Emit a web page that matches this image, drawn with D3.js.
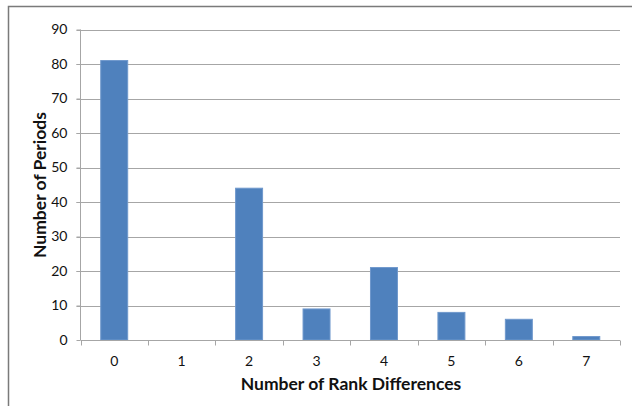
<!DOCTYPE html>
<html lang="en">
<head>
    <meta charset="utf-8">
    <title>Number of Rank Differences</title>
    <script src="https://d3js.org/d3.v7.min.js"></script>
    <style>
        body { margin: 0; background: #fff; }
        svg text { font-family: Lato, "Open Sans", sans-serif; fill: #111; }
    </style>
</head>
<body>
    <svg id="chart" width="632" height="406"></svg>
    <script>
        // data
        const categories = ["0", "1", "2", "3", "4", "5", "6", "7"];
        const periods = [81, 0, 44, 9, 21, 8, 6, 1];
        const yTicks = [0, 10, 20, 30, 40, 50, 60, 70, 80, 90];

        const svg = d3.select("#chart");
        const plot = { left: 80.5, right: 620, top: 29.5, bottom: 340 };

        // outer chart border (only top and left show in the picture)
        svg.append("rect")
            .attr("x", 8.5).attr("y", 6.5)
            .attr("width", 640).attr("height", 420)
            .attr("fill", "none")
            .attr("stroke", "#7a7a7a")
            .attr("stroke-width", 1.5);

        const x = d3.scaleBand().domain(categories).range([plot.left, plot.right]).paddingInner(0.6).paddingOuter(0.3);
        const xEdge = d3.scaleLinear().domain([0, categories.length]).range([plot.left, plot.right]);
        const y = d3.scaleLinear().domain([0, 90]).range([plot.bottom, plot.top]);

        // gridlines
        svg.append("g")
            .selectAll("line")
            .data(yTicks.filter(d => d > 0))
            .enter().append("line")
            .attr("x1", plot.left - 4).attr("x2", plot.right)
            .attr("y1", d => Math.round(y(d)) + 0.5).attr("y2", d => Math.round(y(d)) + 0.5)
            .attr("stroke", "#a6a6a6");

        // y axis
        const yAxis = svg.append("g")
            .attr("transform", `translate(${plot.left},0)`)
            .call(d3.axisLeft(y).tickValues(yTicks).tickSize(4).tickPadding(9));
        yAxis.select(".domain").attr("stroke", "#a6a6a6").attr("d", `M0,${plot.bottom}V${plot.top}`);
        yAxis.selectAll(".tick line").attr("stroke", "#a6a6a6");
        yAxis.selectAll(".tick text").style("font-size", "14px").attr("fill", "#111");

        // bars
        svg.append("g")
            .selectAll("rect")
            .data(periods)
            .enter().append("rect")
            .attr("x", (d, i) => x(categories[i]))
            .attr("width", x.bandwidth())
            .attr("y", d => y(d))
            .attr("height", d => plot.bottom - y(d))
            .attr("fill", "#4f81bd")
            .attr("stroke", d => d > 0 ? "#6f98cc" : "none")
            .attr("stroke-width", 1);

        // x axis
        const xAxis = svg.append("g").attr("transform", `translate(0,${plot.bottom + 0.5})`);
        xAxis.append("line")
            .attr("x1", plot.left).attr("x2", plot.right)
            .attr("stroke", "#a6a6a6");
        xAxis.selectAll(".edge")
            .data(d3.range(categories.length + 1))
            .enter().append("line")
            .attr("class", "edge")
            .attr("x1", d => Math.round(xEdge(d)) + 0.5).attr("x2", d => Math.round(xEdge(d)) + 0.5)
            .attr("y1", 0).attr("y2", 5)
            .attr("stroke", "#a6a6a6");
        xAxis.selectAll("text")
            .data(categories)
            .enter().append("text")
            .attr("x", d => x(d) + x.bandwidth() / 2)
            .attr("y", 25)
            .attr("text-anchor", "middle")
            .style("font-size", "14px")
            .text(d => d);

        // axis titles
        svg.append("text")
            .attr("x", 351).attr("y", 390)
            .attr("text-anchor", "middle")
            .style("font-size", "17.5px").style("font-weight", "bold")
            .attr("fill", "#000")
            .text("Number of Rank Differences");

        svg.append("text")
            .attr("transform", "translate(46,185) rotate(-90)")
            .attr("text-anchor", "middle")
            .style("font-size", "17.5px").style("font-weight", "bold")
            .attr("fill", "#000")
            .text("Number of Periods");
    </script>
</body>
</html>
